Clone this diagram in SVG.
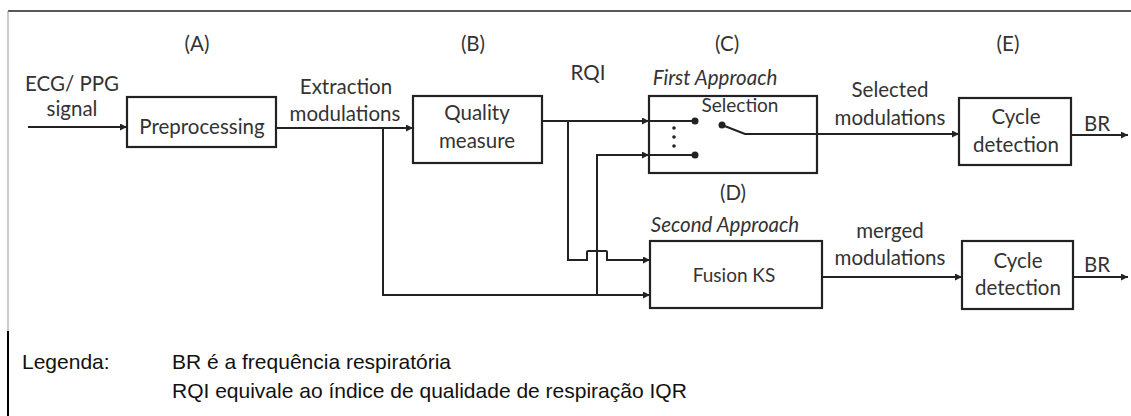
<svg xmlns="http://www.w3.org/2000/svg" width="1131" height="416" viewBox="0 0 1131 416">
<defs>
<marker id="ah" viewBox="0 0 10 10" refX="10" refY="5" markerWidth="8" markerHeight="7" markerUnits="userSpaceOnUse" orient="auto">
<path d="M0,0 L10,5 L0,10 z" fill="#222"/>
</marker>
<style>
.box{fill:#fff;stroke:#222;stroke-width:2.2}
.ln{fill:none;stroke:#222;stroke-width:2}
.t{font-family:Lato,"Open Sans","Liberation Sans",sans-serif;font-size:20.5px;fill:#333;text-anchor:middle}
.s{font-size:19px}
.i{font-style:italic}
.lg{font-family:"Liberation Sans",Arial,sans-serif;font-size:21px;fill:#111}
</style>
</defs>
<rect width="1131" height="416" fill="#fff"/>
<g id="frame">
<path d="M8,11 H1131" stroke="#222" stroke-width="1.5" fill="none"/>
<path d="M8,11 V331" stroke="#999" stroke-width="1" fill="none"/>
<path d="M8,331 V416" stroke="#000" stroke-width="2" fill="none"/>
</g>
<g id="labels">
<text class="t" x="197" y="51">(A)</text>
<text class="t" x="473" y="51">(B)</text>
<text class="t" x="727" y="51">(C)</text>
<text class="t" x="1008" y="51">(E)</text>
<text class="t" x="733" y="200">(D)</text>
<text class="t" x="72" y="91">ECG/ PPG</text>
<text class="t" x="72" y="116">signal</text>
<text class="t" x="346" y="94">Extraction</text>
<text class="t" x="345" y="121">modulations</text>
<text class="t" x="588" y="80">RQI</text>
<text class="t i" x="715" y="85">First Approach</text>
<text class="t" x="890" y="97">Selected</text>
<text class="t" x="890" y="125">modulations</text>
<text class="t i" x="725" y="232">Second Approach</text>
<text class="t" x="890" y="238">merged</text>
<text class="t" x="890" y="265">modulations</text>
<text class="t" x="1097" y="131">BR</text>
<text class="t" x="1097" y="272">BR</text>
</g>
<g id="connectors">
<path class="ln" d="M28,127 H127" marker-end="url(#ah)"/>
<path class="ln" d="M276,128 H413" marker-end="url(#ah)"/>
<path class="ln" d="M383,128 V295 H650" marker-end="url(#ah)"/>
<path class="ln" d="M542,121 H649" marker-end="url(#ah)"/>
<path class="ln" d="M568,121 V260 H587 V252 Q587,251 588,251 H606 Q607,251 607,252 V260 H650" marker-end="url(#ah)"/>
<path class="ln" d="M597,296 V155 H649" marker-end="url(#ah)"/>
<path class="ln" d="M745,134 H959" marker-end="url(#ah)"/>
<path class="ln" d="M1071,135 H1128" marker-end="url(#ah)"/>
<path class="ln" d="M822,277 H962" marker-end="url(#ah)"/>
<path class="ln" d="M1073,277 H1128" marker-end="url(#ah)"/>
</g>
<g id="preprocessing">
<rect class="box" x="127" y="97" width="149" height="50"/>
<text class="t" x="202" y="134">Preprocessing</text>
</g>
<g id="quality">
<rect class="box" x="413" y="96" width="129" height="67"/>
<text class="t" x="477" y="120">Quality</text>
<text class="t" x="477" y="148">measure</text>
</g>
<g id="selection">
<rect class="box" x="649" y="96" width="168" height="77"/>
<text class="t s" x="740" y="112">Selection</text>
<path class="ln" d="M649,121 H695 M649,155 H695 M722,125 L745,134 H817"/>
<circle cx="695" cy="121" r="3.5" fill="#222"/>
<circle cx="695" cy="155" r="3.5" fill="#222"/>
<circle cx="722" cy="125" r="3.5" fill="#222"/>
<circle cx="674" cy="128" r="1.8" fill="#222"/>
<circle cx="674" cy="137" r="1.8" fill="#222"/>
<circle cx="674" cy="146" r="1.8" fill="#222"/>
</g>
<g id="cycle1">
<rect class="box" x="959" y="98" width="112" height="67"/>
<text class="t" x="1016" y="124">Cycle</text>
<text class="t" x="1016" y="152">detection</text>
</g>
<g id="fusion">
<rect class="box" x="650" y="241" width="172" height="67"/>
<text class="t s" x="734" y="282">Fusion KS</text>
</g>
<g id="cycle2">
<rect class="box" x="962" y="241" width="111" height="68"/>
<text class="t" x="1018" y="268">Cycle</text>
<text class="t" x="1018" y="295">detection</text>
</g>
<g id="legend">
<text class="lg" x="22" y="369">Legenda:</text>
<text class="lg" x="172" y="369">BR é a frequência respiratória</text>
<text class="lg" x="172" y="398">RQI equivale ao índice de qualidade de respiração IQR</text>
</g>
</svg>
